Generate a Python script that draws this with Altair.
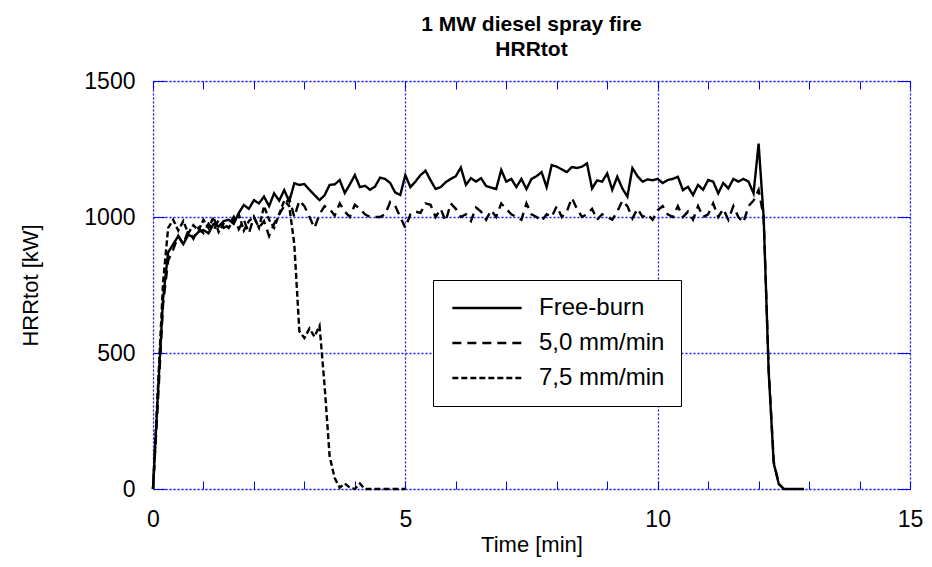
import altair as alt
import pandas as pd

SERIES = ["Free-burn", "5,0 mm/min", "7,5 mm/min"]
TIME_STEP = 0.1  # minutes between samples

free_burn = [
    0, 360, 700, 870, 900, 930, 900, 935, 925, 945,
    952, 940, 975, 965, 985, 990, 975, 1015, 1044, 1030,
    1062, 1050, 1075, 1040, 1087, 1060, 1099, 1057, 1124, 1118,
    1121, 1100, 1081, 1062, 1080, 1118, 1120, 1136, 1088, 1120,
    1154, 1110, 1115, 1100, 1112, 1145, 1140, 1125, 1090, 1081,
    1154, 1110, 1130, 1154, 1170, 1135, 1103, 1110, 1128, 1140,
    1150, 1182, 1118, 1143, 1130, 1143, 1114, 1108, 1103, 1173,
    1130, 1140, 1110, 1140, 1103, 1140, 1150, 1165, 1110, 1191,
    1185, 1175, 1165, 1184, 1180, 1185, 1197, 1105, 1135, 1130,
    1160, 1100, 1148, 1105, 1075, 1180, 1150, 1130, 1138, 1135,
    1140, 1125, 1136, 1140, 1148, 1099, 1111, 1081, 1118, 1100,
    1136, 1130, 1087, 1125, 1105, 1140, 1130, 1140, 1130, 1087,
    1270, 1000, 430, 95, 18, 0, 0, 0, 0, 0,
]

rate_50 = [
    0, 330, 680, 840, 880, 930, 900, 950, 920, 960,
    940, 975, 950, 990, 960, 970, 1000, 955, 990, 940,
    1000, 960, 985, 930, 975, 1010, 1040, 1070, 1000, 1060,
    1040, 1000, 960, 1010, 1040, 1030, 1005, 1050, 1020, 1000,
    1045, 1030, 1010, 1000, 1000, 1000, 1010, 1055, 1040, 1000,
    960, 1010, 1020, 1015, 1050, 1045, 1000, 1030, 985, 1050,
    1030, 1000, 1010, 985, 1035, 1020, 990, 1025, 1000, 1050,
    1030, 1010, 1000, 990, 1050, 1010, 1000, 985, 1010, 1000,
    1040, 1000, 1020, 1070, 1030, 1000, 1010, 1030, 990, 1010,
    1000, 990, 1020, 1060, 1040, 995, 1030, 1000, 1010, 990,
    1025, 1040, 1010, 1000, 1040, 1000, 1020, 990, 1040, 1000,
    1010, 1050, 1000, 1030, 990, 1040, 1000, 980, 1040, 1060,
    1100, 1000, 440, 100, 20, 0,
]

rate_75 = [
    0, 380, 760, 960, 990, 950, 985, 940, 970, 950,
    990, 960, 1000, 945, 975, 960, 990, 1010, 950, 985,
    1000, 960, 1040, 990, 960, 1010, 1060, 1040, 900, 580,
    555, 590, 560, 600, 380, 120, 40, 5, 20, 5,
    0, 20, 0, 0, 0, 0, 0, 0, 0, 0, 0,
]

X_TICKS = [0, 5, 10, 15]
X_MINOR = list(range(0, 16))
Y_TICKS = [0, 500, 1000, 1500]

rows = []
for name, vals in zip(SERIES, [free_burn, rate_50, rate_75]):
    for i, v in enumerate(vals):
        rows.append({"t": round(i * TIME_STEP, 1), "hrr": v, "series": name})
df = pd.DataFrame(rows)

W, H = 757, 408
BLUE = "#0000ff"
GRID = "#1a1aff"
FONT = "Liberation Sans"

xscale = alt.Scale(domain=[0, 15], nice=False, zero=False)
yscale = alt.Scale(domain=[0, 1500], nice=False)

dash_scale = alt.Scale(domain=SERIES, range=[[1, 0], [9, 6], [6, 3]])
width_scale = alt.Scale(domain=SERIES, range=[2.4, 2.4, 3])

legend = alt.Legend(
    title=None, orient="none", legendX=280, legendY=199,
    symbolType="M-1,0H7", symbolSize=300, symbolStrokeColor="black",
    labelOffset=66, labelFontSize=24, labelFont=FONT, labelColor="black",
    padding=16, rowPadding=11, strokeColor="black", fillColor="white",
    cornerRadius=0,
)

main = alt.Chart(df).mark_line(color="black").encode(
    x=alt.X("t:Q", scale=xscale, axis=alt.Axis(
        values=X_TICKS, grid=True, gridColor=GRID, gridDash=[2, 2],
        gridWidth=1.3, gridOpacity=1, labelFlush=False,
        ticks=False, domain=False, labelFontSize=23, labelFont=FONT,
        labelColor="black", labelPadding=19, format="d",
        title="Time [min]", titleFontSize=22, titleFont=FONT,
        titleFontWeight="normal", titleColor="black",
        titleY=55, titleBaseline="middle")),
    y=alt.Y("hrr:Q", scale=yscale, axis=alt.Axis(
        values=Y_TICKS, grid=True, gridColor=GRID, gridDash=[2, 2],
        gridWidth=1.3, gridOpacity=1, labelFlush=False,
        ticks=False, domain=False, labelFontSize=23, labelFont=FONT,
        labelColor="black", labelPadding=18, format="d",
        title="HRRtot [kW]", titleFontSize=22, titleFont=FONT,
        titleFontWeight="normal", titleColor="black",
        titleAngle=270, titleX=-123, titleY=204,
        titleAlign="center", titleBaseline="middle")),
    strokeDash=alt.StrokeDash("series:N", scale=dash_scale, legend=legend,
                              sort=SERIES),
    strokeWidth=alt.StrokeWidth("series:N", scale=width_scale, legend=legend,
                                sort=SERIES),
    detail="series:N",
)


def tick_layer(xorient, yorient):
    return alt.Chart(df).mark_line(opacity=0).encode(
        x=alt.X("t:Q", scale=xscale, axis=alt.Axis(
            orient=xorient, offset=-H, values=X_MINOR, tickSize=8,
            tickColor=BLUE, tickWidth=1, labels=False, domain=False,
            grid=False, title=None)),
        y=alt.Y("hrr:Q", scale=yscale, axis=alt.Axis(
            orient=yorient, offset=-W, values=Y_TICKS, tickSize=12,
            tickColor=BLUE, tickWidth=1, labels=False, domain=False,
            grid=False, title=None)),
        detail="series:N",
    )


chart = alt.layer(
    main, tick_layer("top", "right"), tick_layer("bottom", "left")
).resolve_axis(x="independent", y="independent").properties(
    width=W, height=H,
    autosize=alt.AutoSizeParams(type="none"),
    padding={"left": 145, "top": 73, "right": 14, "bottom": 70},
    title=alt.TitleParams(
        text=["1 MW diesel spray fire", "HRRtot"], fontSize=21, font=FONT,
        fontWeight="bold", anchor="middle", offset=10, lineHeight=25,
        color="black"),
).configure_view(stroke=BLUE, strokeWidth=1.5).configure(background="white")

chart.save("out.html", embed_options={"renderer": "svg", "actions": False})
